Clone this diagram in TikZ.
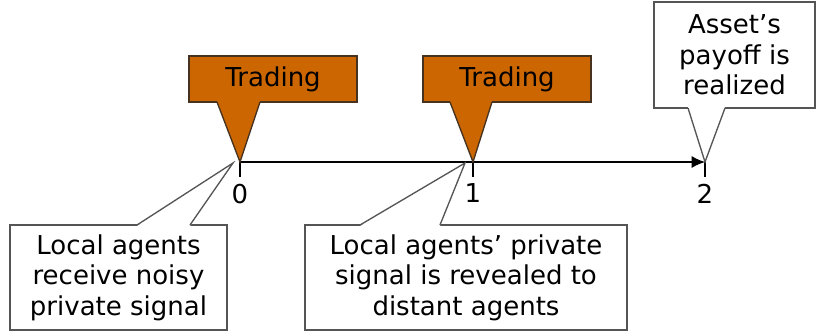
\documentclass[tikz,border=0pt]{standalone}
\usepackage{fontspec}
\setmainfont{DejaVu Sans}
\usetikzlibrary{arrows.meta,positioning,calc}

\definecolor{tradeorange}{RGB}{204,102,0}
\definecolor{tradeedge}{RGB}{70,50,30}
\definecolor{noteedge}{RGB}{85,85,85}

\tikzset{
  tradebox/.style={draw=tradeedge, fill=tradeorange, line width=1pt, outer sep=0pt,
    minimum width=126pt, minimum height=34.5pt, inner sep=0pt},
  notebox/.style={draw=noteedge, fill=white, line width=1pt, outer sep=0pt,
    align=center, inner sep=0pt},
  tick/.style={line width=1pt},
  ticklabel/.style={below=5pt of #1, inner sep=0pt},
}

\begin{document}
\begin{tikzpicture}[x=0.75pt, y=0.75pt, font=\fontsize{19.5}{23}\selectfont, >={Latex[length=10pt,width=9pt]}]
  \useasboundingbox (-240,-171) rectangle (577,162);

  % points on the time line
  \coordinate (t0) at (0,0);
  \coordinate (t1) at (233,0);
  \coordinate (t2) at (465,0);

  % time line and ticks
  \draw[->, line width=1pt] (t0) -- (t2);
  \draw[tick] (t0) -- ++(0,-15) coordinate (k0);
  \draw[tick] (t1) -- ++(0,-15) coordinate (k1);
  \draw[tick] (t2) -- ++(0,-15) coordinate (k2);
  \node[ticklabel=k0] (l0) {0};
  \node[ticklabel=k1] (l1) {1};
  \node[ticklabel=k2] (l2) {2};

  % trading callouts
  \node[tradebox] (trade1) at (33,83) {Trading};
  \node[tradebox] (trade2) at (267,83) {Trading};
  \fill[tradeorange] ($(trade1.south west)+(28,1)$) -- (t0) -- ($(trade1.south west)+(71,1)$) -- cycle;
  \draw[tradeedge, line width=1pt] ($(trade1.south west)+(28,0)$) -- (t0) -- ($(trade1.south west)+(71,0)$);
  \fill[tradeorange] ($(trade2.south west)+(27,1)$) -- (t1) -- ($(trade2.south west)+(69,1)$) -- cycle;
  \draw[tradeedge, line width=1pt] ($(trade2.south west)+(27,0)$) -- (t1) -- ($(trade2.south west)+(69,0)$);

  % payoff callout
  \node[notebox, minimum width=120.75pt, minimum height=79.5pt] (payoff) at (494.5,107)
    {Asset’s\\payoff is\\realized};
  \fill[white] ($(payoff.south west)+(34,1)$) -- (t2) -- ($(payoff.south west)+(71,1)$) -- cycle;
  \draw[noteedge, line width=1pt] ($(payoff.south west)+(34,0)$) -- (t2) -- ($(payoff.south west)+(71,0)$);

  % signal callouts below the line
  \node[notebox, minimum width=162.75pt, minimum height=78.75pt] (signal) at (-121.5,-115.5)
    {Local agents\\receive noisy\\private signal};
  \node[notebox, minimum width=241.5pt, minimum height=78.75pt] (reveal) at (226,-115.5)
    {Local agents’ private\\signal is revealed to\\distant agents};
  \coordinate (p0) at ($(t0)+(-7,-1)$);
  \coordinate (p1) at ($(t1)+(-8,-1)$);
  \fill[white] ($(signal.north west)+(127,-1)$) -- (p0) -- ($(signal.north west)+(180,-1)$) -- cycle;
  \draw[noteedge, line width=1pt] ($(signal.north west)+(127,0)$) -- (p0) -- ($(signal.north west)+(180,0)$);
  \fill[white] ($(reveal.north west)+(55,-1)$) -- (p1) -- ($(reveal.north west)+(135,-1)$) -- cycle;
  \draw[noteedge, line width=1pt] ($(reveal.north west)+(55,0)$) -- (p1) -- ($(reveal.north west)+(135,0)$);
\end{tikzpicture}
\end{document}
